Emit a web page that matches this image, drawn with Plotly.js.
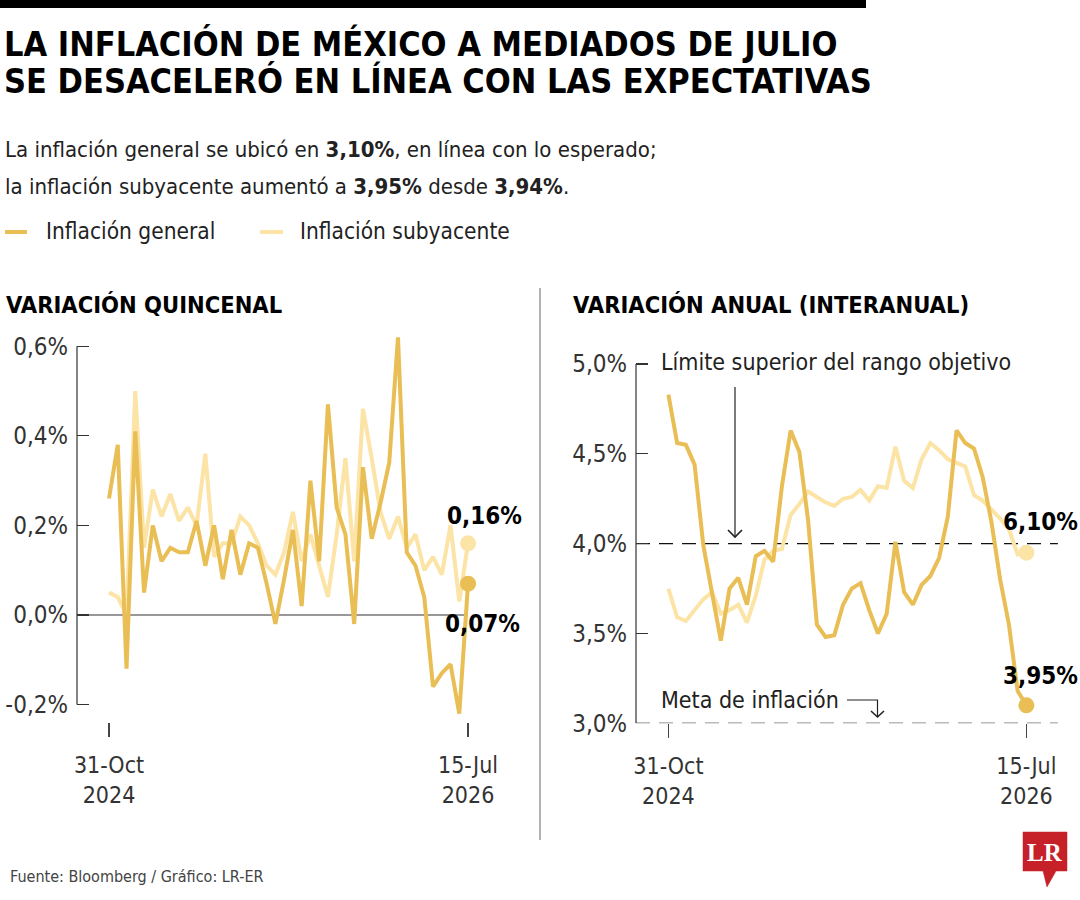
<!DOCTYPE html>
<html>
<head>
<meta charset="utf-8">
<script src="https://cdn.plot.ly/plotly-3.0.1.min.js"></script>
<style>
  html, body { margin: 0; padding: 0; background: #ffffff; }
  #chart { width: 1080px; height: 900px; }
</style>
</head>
<body>
<div id="chart"></div>
<script>
// Quincenas from 31-Oct-2024 to 15-Jul-2026 (42 periods)
const tickLabelsX = ['31-Oct<br>2024', '15-Jul<br>2026'];

// Variación quincenal (%)
const quincenalGeneral = [0.26, 0.38, -0.12, 0.41, 0.05, 0.20, 0.12, 0.15, 0.14, 0.14,
  0.21, 0.11, 0.20, 0.08, 0.19, 0.09, 0.16, 0.15, 0.07, -0.02,
  0.08, 0.19, 0.02, 0.30, 0.12, 0.47, 0.24, 0.18, -0.02, 0.33,
  0.17, 0.25, 0.34, 0.62, 0.14, 0.11, 0.04, -0.16, -0.13, -0.11,
  -0.22, 0.07];
const quincenalSubyacente = [0.05, 0.04, 0.00, 0.50, 0.15, 0.28, 0.22, 0.27, 0.21, 0.24,
  0.20, 0.36, 0.13, 0.16, 0.16, 0.22, 0.20, 0.16, 0.11, 0.09,
  0.14, 0.23, 0.12, 0.18, 0.11, 0.04, 0.18, 0.35, 0.12, 0.46,
  0.35, 0.23, 0.17, 0.22, 0.15, 0.18, 0.10, 0.13, 0.09, 0.20,
  0.03, 0.16];

// Variación anual (%)
const anualGeneral = [4.83, 4.56, 4.55, 4.44, 3.99, 3.71, 3.46, 3.75, 3.81, 3.66,
  3.93, 3.96, 3.90, 4.32, 4.63, 4.51, 4.13, 3.55, 3.48, 3.49,
  3.66, 3.75, 3.78, 3.63, 3.50, 3.61, 4.01, 3.73, 3.66, 3.77,
  3.82, 3.92, 4.15, 4.63, 4.56, 4.53, 4.37, 4.12, 3.80, 3.55,
  3.18, 3.10];
const anualSubyacente = [3.75, 3.59, 3.57, 3.63, 3.69, 3.73, 3.61, 3.63, 3.66, 3.56,
  3.71, 3.91, 3.96, 3.97, 4.16, 4.22, 4.29, 4.26, 4.23, 4.21,
  4.25, 4.26, 4.30, 4.24, 4.32, 4.31, 4.54, 4.35, 4.31, 4.47,
  4.56, 4.52, 4.47, 4.45, 4.43, 4.27, 4.24, 4.19, 4.14, 4.08,
  3.94, 3.95];

const quincenalTicks = [-0.2, 0, 0.2, 0.4, 0.6];
const quincenalTickText = ['-0,2%', '0,0%', '0,2%', '0,4%', '0,6%'];
const anualTicks = [3.0, 3.5, 4.0, 4.5, 5.0];
const anualTickText = ['3,0%', '3,5%', '4,0%', '4,5%', '5,0%'];

const W = 1080, H = 900;
const px = v => v / W;
const py = v => 1 - v / H;

const GOLD = '#E8BE55';
const PALE = '#FCE3A6';
const INK = '#222222';
const NARROW = "'Liberation Sans Narrow', 'DejaVu Sans Condensed', 'Roboto Condensed', 'Liberation Sans', sans-serif";

const xIdx = quincenalGeneral.map((_, i) => i);
const lastI = xIdx.length - 1;
const last = arr => arr[arr.length - 1];

function lineTrace(y, color, xa, ya, name) {
  return { x: xIdx, y: y, type: 'scatter', mode: 'lines', name: name,
    line: { color: color, width: 4 }, xaxis: xa, yaxis: ya, showlegend: false, hoverinfo: 'y' };
}
function endDot(y, color, xa, ya) {
  return { x: [lastI], y: [last(y)], type: 'scatter', mode: 'markers',
    marker: { color: color, size: 16 }, xaxis: xa, yaxis: ya, showlegend: false, cliponaxis: false, hoverinfo: 'y' };
}

const data = [
  lineTrace(quincenalSubyacente, PALE, 'x', 'y', 'Inflación subyacente'),
  lineTrace(quincenalGeneral, GOLD, 'x', 'y', 'Inflación general'),
  endDot(quincenalSubyacente, PALE, 'x', 'y'),
  endDot(quincenalGeneral, GOLD, 'x', 'y'),
  lineTrace(anualSubyacente, PALE, 'x2', 'y2', 'Inflación subyacente'),
  lineTrace(anualGeneral, GOLD, 'x2', 'y2', 'Inflación general'),
  endDot(anualSubyacente, PALE, 'x2', 'y2'),
  endDot(anualGeneral, GOLD, 'x2', 'y2')
];

const yTickFont = { family: NARROW, size: 24, color: '#333333' };
const xTickFont = { family: NARROW, size: 23, color: '#333333' };

const xCommon = {
  tickmode: 'array', tickvals: [0, lastI], ticktext: tickLabelsX,
  ticks: 'outside', ticklen: 14, tickwidth: 1.2, tickcolor: '#444444',
  showgrid: false, zeroline: false, showline: false, tickfont: xTickFont,
  ticklabelstandoff: 8, fixedrange: true
};
const yCommon = {
  tickmode: 'array', ticks: 'inside', ticklen: 12, tickwidth: 1.2, tickcolor: '#333333',
  showgrid: false, zeroline: false, showline: false, tickfont: yTickFont,
  ticklabelstandoff: 8, fixedrange: true
};

const txt = (x, y, text, size, opts) => Object.assign({
  xref: 'paper', yref: 'paper', x: px(x), y: py(y), text: text, showarrow: false,
  xanchor: 'left', yanchor: 'middle', align: 'left',
  font: { family: NARROW, size: size, color: INK }
}, opts || {});
const bold = (x, y, text, size, anchor) => ({
  xref: 'paper', yref: 'paper', x: px(x), y: py(y), text: '<b>' + text + '</b>', showarrow: false,
  xanchor: anchor || 'left', yanchor: 'middle', align: 'left',
  font: { family: NARROW, size: size, color: '#000000' }
});

const annotations = [
  bold(2, 44, 'LA INFLACIÓN DE MÉXICO A MEDIADOS DE JULIO', 34),
  bold(2, 81, 'SE DESACELERÓ EN LÍNEA CON LAS EXPECTATIVAS', 34),
  txt(3, 150, 'La inflación general se ubicó en <b>3,10%</b>, en línea con lo esperado;', 22),
  txt(3, 186, 'la inflación subyacente aumentó a <b>3,95%</b> desde <b>3,94%</b>.', 22),
  txt(44, 231, 'Inflación general', 22.5),
  txt(298, 231, 'Inflación subyacente', 22.5),
  bold(4, 305, 'VARIACIÓN QUINCENAL', 23.5),
  bold(571, 305, 'VARIACIÓN ANUAL (INTERANUAL)', 23.5),
  // end-point labels
  bold(484, 516, '0,16%', 24, 'center'),
  bold(482, 624, '0,07%', 24, 'center'),
  bold(1040, 522, '6,10%', 24, 'center'),
  bold(1040, 676, '3,95%', 24, 'center'),
  // reference-line notes
  txt(659, 362, 'Límite superior del rango objetivo', 23),
  txt(659, 700, 'Meta de inflación', 23),
  // footer
  txt(8, 876, 'Fuente: Bloomberg / Gráfico: LR-ER', 16, { font: { family: NARROW, size: 16, color: '#444444' } }),
  // logo letters
  { xref: 'paper', yref: 'paper', x: px(1045), y: py(852), text: '<b>LR</b>', showarrow: false,
    xanchor: 'center', yanchor: 'middle', font: { family: "'Liberation Serif', 'DejaVu Serif', serif", size: 25, color: '#ffffff' } }
];

const pline = (x0, y0, x1, y1, color, width, dash) => ({
  type: 'line', xref: 'paper', yref: 'paper', x0: px(x0), y0: py(y0), x1: px(x1), y1: py(y1),
  line: { color: color, width: width, dash: dash || 'solid' }
});
const ppath = (d, color, width, fill) => ({
  type: 'path', xref: 'paper', yref: 'paper', path: d,
  line: { color: color, width: width }, fillcolor: fill || 'rgba(0,0,0,0)'
});
// path helper in pixel space
const P = pts => pts.map((p, i) => (i ? 'L' : 'M') + px(p[0]) + ',' + py(p[1])).join(' ');

const shapes = [
  // top bar
  { type: 'rect', xref: 'paper', yref: 'paper', x0: 0, x1: px(866), y0: py(0), y1: py(8),
    fillcolor: '#000', line: { width: 0 } },
  // legend keys
  pline(5, 232, 27, 232, GOLD, 4),
  pline(260, 232, 283, 232, PALE, 4),
  // divider
  pline(540, 288, 540, 840, '#9a9a9a', 1.5),
  // left axis line and zero line
  { type: 'line', xref: 'x domain', yref: 'y', x0: 0, x1: 0, y0: -0.2, y1: 0.6, line: { color: '#333', width: 1.2 } },
  { type: 'line', xref: 'x', yref: 'y', x0: -3.655, x1: lastI, y0: 0, y1: 0, line: { color: '#333', width: 1.2 }, layer: 'below' },
  // right axis line
  { type: 'line', xref: 'x2 domain', yref: 'y2', x0: 0, x1: 0, y0: 3.0, y1: 5.0, line: { color: '#333', width: 1.2 } },
  // 4% upper limit and 3% target dashed lines
  { type: 'line', xref: 'x2 domain', yref: 'y2', x0: 0, x1: 0.995, y0: 4.0, y1: 4.0,
    line: { color: '#111', width: 1.2, dash: '14px,9px' }, layer: 'below' },
  { type: 'line', xref: 'x2 domain', yref: 'y2', x0: 0, x1: 0.995, y0: 3.0, y1: 3.0,
    line: { color: '#777', width: 1.6, dash: '14px,9px' }, layer: 'below' },
  // arrow to the 4% line
  pline(735, 387, 735, 537, '#222', 1.2),
  ppath(P([[728, 530], [735, 537], [742, 530]]), '#222', 1.6),
  // arrow to the 3% line
  ppath(P([[847, 700], [877.5, 700], [877.5, 717]]), '#222', 1.2),
  ppath(P([[871, 711], [877.5, 717], [884, 711]]), '#222', 1.6),
  // logo box
  ppath(P([[1023, 832], [1067, 832], [1067, 871], [1056, 871], [1047, 887], [1043, 871], [1023, 871]]) + ' Z',
    '#C62128', 0.5, '#C62128')
];

const layout = {
  width: W, height: H,
  margin: { l: 0, r: 0, t: 0, b: 0 },
  paper_bgcolor: '#ffffff', plot_bgcolor: 'rgba(0,0,0,0)',
  showlegend: false,
  font: { family: NARROW, color: INK },
  xaxis: Object.assign({}, xCommon, { domain: [px(77), px(500)], range: [-3.655, 44.65], anchor: 'y' }),
  yaxis: Object.assign({}, yCommon, { domain: [py(722), py(320)], range: [-0.2389, 0.6586],
    tickvals: quincenalTicks, ticktext: quincenalTickText, anchor: 'x' }),
  xaxis2: Object.assign({}, xCommon, { domain: [px(636), px(1060)], range: [-3.711, 44.85], anchor: 'y2' }),
  yaxis2: Object.assign({}, yCommon, { domain: [py(723.3), py(340)], range: [3.0, 5.1336],
    tickvals: anualTicks, ticktext: anualTickText, anchor: 'x2' }),
  annotations: annotations,
  shapes: shapes
};

Plotly.newPlot('chart', data, layout, { displayModeBar: false, staticPlot: true });
</script>
</body>
</html>
